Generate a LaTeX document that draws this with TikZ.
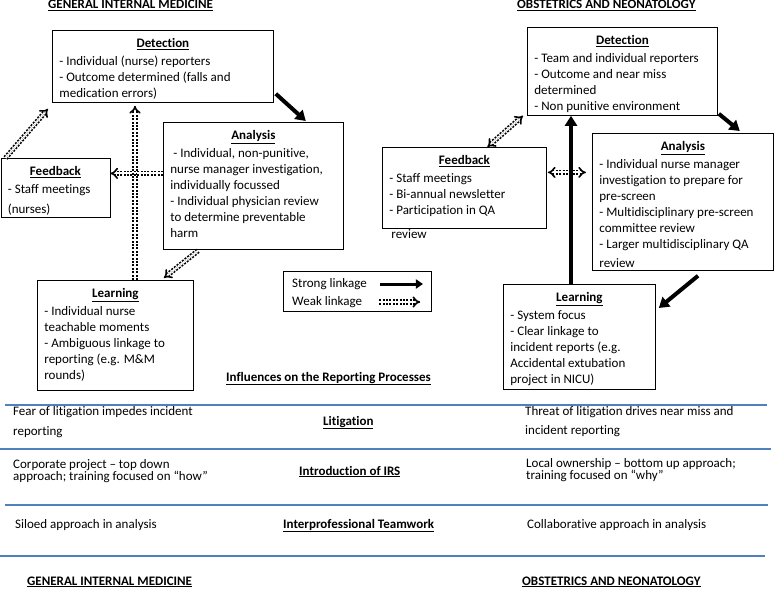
\documentclass[tikz,border=0pt]{standalone}
\usepackage{fontspec}
\setmainfont{Carlito}[Ligatures=NoCommon]
\usetikzlibrary{arrows.meta}
\definecolor{tabrule}{RGB}{79,129,189}
\newcommand{\tabfont}{\fontsize{13}{16}\selectfont}
\newcommand{\boxbody}[4]{%
  \parbox[t][#2][t]{#1}{\tabfont
    {\centering\strut\textbf{\underline{#3}}\par}\vspace{2pt}%
    \raggedright #4}}
\begin{document}
\begin{tikzpicture}[x=1pt,y=-1pt]

		\tikzset{
		  box/.style={
			draw,
			line width=0.8pt,
			inner xsep=7pt,
			inner ysep=6pt,
			anchor=north west,
		  },
		  strong/.style={line width=4pt, -{Triangle[length=10pt,width=12pt]}},
		  weak/.style={line width=1.6pt, double distance=2pt, dash pattern=on 2pt off 1.4pt, -{Implies}},
		  weakboth/.style={weak, {Implies}-{Implies}},
		  cell/.style={anchor=west, inner sep=0pt, font=\tabfont, text height=9pt, text depth=3pt},
		  head/.style={cell, font=\tabfont\bfseries},
		}
		\useasboundingbox (0,0) rectangle (778,589);
		% headings
		\node[head] (gimtop) at (48,6) {\underline{GENERAL INTERNAL MEDICINE}};
		\node[head] (obstop) at (517,6) {\underline{OBSTETRICS AND NEONATOLOGY}};
		% general internal medicine
		\node[box] (ldet) at (52,30) {\boxbody{207pt}{60pt}{Detection}{- Individual (nurse) reporters\\ - Outcome determined (falls and\\ medication errors)}};
		\node[box] (lana) at (163,122) {\boxbody{166pt}{115pt}{Analysis}{\hspace{3pt}- Individual, non-punitive,\\ nurse manager investigation,\\ individually focussed\\ - Individual physician review\\ to determine preventable\\ harm}};
		\node[box] (lfeed) at (0.5,158) {\boxbody{95pt}{47pt}{Feedback}{- Staff meetings\\[4pt] (nurses)}};
		\node[box] (llearn) at (37,280) {\boxbody{142pt}{98pt}{Learning}{- Individual nurse\\ teachable moments\\ - Ambiguous linkage to\\ reporting (e.g. M\&M\\ rounds)}};
		\draw[strong] ([shift={(2pt,9pt)}]ldet.south east) -- ([xshift=-38pt,yshift=1pt]lana.north east);
		\draw[weak] ([xshift=5pt]lfeed.north west) -- ([shift={(-4pt,-6pt)}]ldet.south west);
		\draw[weak, shorten >=3pt] ([xshift=98pt]llearn.north west) -- ([xshift=98pt]llearn.north west |- ldet.south);
		\draw[weak] ([yshift=14.5pt]lfeed.east -| lana.west) -- ([yshift=14.5pt]lfeed.east);
		\draw[weak] ([xshift=35pt,yshift=-1pt]lana.south west) -- ([xshift=-30pt,yshift=2pt]llearn.north east);
		% obstetrics and neonatology
		\node[box] (rdet) at (527,27) {\boxbody{176pt}{76pt}{Detection}{- Team and individual reporters\\ - Outcome and near miss\\ determined\\ - Non punitive environment}};
		\node[box] (rana) at (592,133) {\boxbody{167pt}{125pt}{Analysis}{- Individual nurse manager\\ investigation to prepare for\\ pre-screen\\ - Multidisciplinary pre-screen\\ committee review\\ - Larger multidisciplinary QA\\[3pt] review}};
		\node[box] (rfeed) at (382,147) {\boxbody{150pt}{69pt}{Feedback}{- Staff meetings\\ - Bi-annual newsletter\\ - Participation in QA\\[8pt] \hspace{2pt}review}};
		\node[box] (rlearn) at (503,284) {\boxbody{138pt}{93pt}{Learning}{- System focus\\ - Clear linkage to\\ incident reports (e.g.\\ Accidental extubation\\ project in NICU)}};
		\draw[strong] ([shift={(1pt,2pt)}]rdet.south east) -- ([xshift=-34pt,yshift=2pt]rana.north east);
		\draw[weakboth] ([xshift=23pt]rfeed.north) -- ([xshift=-4pt]rdet.south west);
		\draw[weakboth] ([shift={(1pt,15.5pt)}]rfeed.east) -- ([shift={(-6pt,15.5pt)}]rfeed.east -| rana.west);
		\draw[strong] ([xshift=68pt]rlearn.north west) -- ([xshift=68pt]rlearn.north west |- rdet.south);
		\draw[strong] ([xshift=106pt,yshift=-5pt]rana.south west) -- ([xshift=3pt,yshift=-24pt]rlearn.north east);
		% legend
		\node[draw, line width=0.8pt, minimum width=148pt, minimum height=40pt, anchor=north west] (legend) at (283,271) {};
		\node[cell] (strongtxt) at (292,284) {Strong linkage};
		\node[cell] (weaktxt) at (292,302) {Weak linkage};
		\draw[strong, line width=3pt, -{Triangle[length=7pt,width=9pt]}] ([xshift=13pt]strongtxt.east) -- ([xshift=56pt]strongtxt.east);
		\draw[weak] ([xshift=17pt]weaktxt.east) -- ([xshift=58pt]weaktxt.east);
		% influences
		\node[head] (influences) at (226,378) {\underline{Influences on the Reporting Processes}};
		\draw[color=tabrule, line width=1.3pt] (5,405)--(767,405);
		\draw[color=tabrule, line width=1.3pt] (0,449)--(771,449);
		\draw[color=tabrule, line width=1.3pt] (5,505)--(768,505);
		\draw[color=tabrule, line width=1.3pt] (0,556)--(765,556);
		\node[cell] (litl1) at (13,412) {Fear of litigation impedes incident};
		\node[cell] (litl2) at (13,432) {reporting};
		\node[head] (lit) at (323,422) {\underline{Litigation}};
		\node[cell] (litr1) at (525,412.5) {Threat of litigation drives near miss and};
		\node[cell] (litr2) at (525,431.5) {incident reporting};
		\node[cell] (irsl1) at (13,465) {Corporate project – top down};
		\node[cell] (irsl2) at (13,477) {approach; training focused on “how”};
		\node[head] (irs) at (299,472) {\underline{Introduction of IRS}};
		\node[cell] (irsr1) at (526,464) {Local ownership – bottom up approach;};
		\node[cell] (irsr2) at (526,476) {training focused on “why”};
		\node[cell] (teaml) at (15,525) {Siloed approach in analysis};
		\node[head] (team) at (283,525) {\underline{Interprofessional Teamwork}};
		\node[cell] (teamr) at (527,525) {Collaborative approach in analysis};
		\node[head] (gimbot) at (27,582) {\underline{GENERAL INTERNAL MEDICINE}};
		\node[head] (obsbot) at (522,582) {\underline{OBSTETRICS AND NEONATOLOGY}};

\end{tikzpicture}
\end{document}
